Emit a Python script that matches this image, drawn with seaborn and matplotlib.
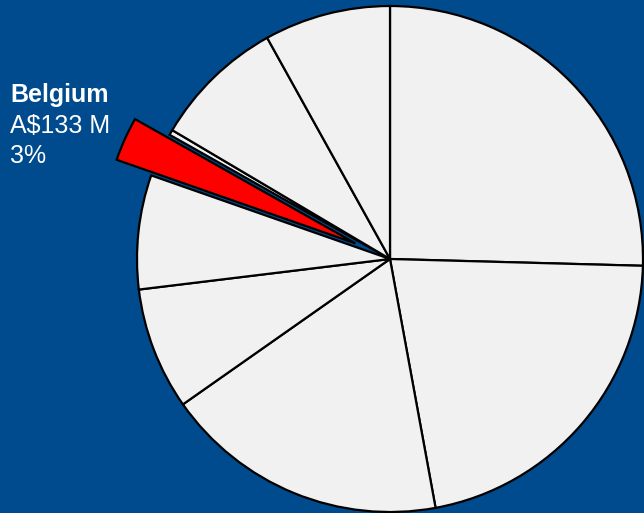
import matplotlib
matplotlib.use("Agg")
import matplotlib.pyplot as plt
import seaborn as sns

# Export value by destination, A$ millions (clockwise from 12 o'clock)
countries = ["Market 1", "Market 2", "Market 3", "Market 4", "Market 5",
             "Belgium", "Market 7", "Market 8", "Market 9"]
values = [1204, 1027, 859, 370, 345, 133, 16, 399, 382]
highlight = "Belgium"

BG = "#004B8D"
SLICE = "#F1F1F1"
HIGHLIGHT = "#FF0000"

sns.set_theme(style="white")
plt.rcParams["font.family"] = ["Liberation Sans", "DejaVu Sans"]

W, H = 644, 513
fig = plt.figure(figsize=(W / 100, H / 100), dpi=100, facecolor=BG)
ax = fig.add_axes([0, 0, 1, 1])
ax.set_facecolor(BG)

colors = [HIGHLIGHT if c == highlight else SLICE for c in countries]
explode = [0.15 if c == highlight else 0 for c in countries]

ax.pie(values, colors=colors, explode=explode, startangle=90,
       counterclock=False, radius=1.0,
       wedgeprops=dict(edgecolor="black", linewidth=1.6))

# pie centred at (390, 259) px with a 253 px radius
r, cx, cy = 253.0, 390.0, 259.0
ax.set_xlim(-cx / r, (W - cx) / r)
ax.set_ylim(-(H - cy) / r, cy / r)
ax.set_aspect("auto")
ax.axis("off")

total = sum(values)
val = values[countries.index(highlight)]
pct = round(val / total * 100)

def px_text(x, y, s, **kw):
    fig.text(x / W, 1 - y / H, s, color="white", fontsize=18,
             va="baseline", ha="left", **kw)

px_text(10, 102, highlight, fontweight="bold")
px_text(10, 133, f"A${val} M")
px_text(10, 163, f"{pct}%")

fig.savefig("out.png", dpi=100, facecolor=BG)
